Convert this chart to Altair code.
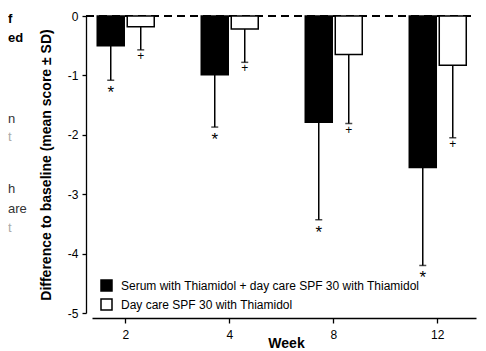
import altair as alt
import pandas as pd

weeks = ["2", "4", "8", "12"]
series = ["Serum with Thiamidol + day care SPF 30 with Thiamidol",
          "Day care SPF 30 with Thiamidol"]
serum_mean = [-0.50, -0.99, -1.79, -2.55]
serum_sd = [0.58, 0.88, 1.64, 1.65]
day_mean = [-0.18, -0.22, -0.65, -0.83]
day_sd = [0.39, 0.56, 1.16, 1.22]
serum_sig = ["*", "*", "*", "*"]
day_sig = ["+", "+", "+", "+"]
y_ticks = [0, -1, -2, -3, -4, -5]

rows = []
for i, w in enumerate(weeks):
    rows.append({"week": w, "series": series[0], "mean": serum_mean[i], "sd": serum_sd[i], "sig": serum_sig[i]})
    rows.append({"week": w, "series": series[1], "mean": day_mean[i], "sd": day_sd[i], "sig": day_sig[i]})
df = pd.DataFrame(rows)

FONT = "Liberation Sans, Arial, sans-serif"

yscale = alt.Scale(domain=[-5, 0], nice=False, zero=False)

base = alt.Chart(df).transform_calculate(
    low="datum.mean - datum.sd"
).encode(
    x=alt.X("week:N", sort=weeks,
            scale=alt.Scale(paddingInner=0.452, paddingOuter=0.072, align=0.35),
            axis=alt.Axis(title="Week", labelAngle=0, offset=5, tickSize=5,
                          labelFontSize=12, labelPadding=6, titleFontSize=14,
                          titleFontWeight="bold", titleX=194, titleY=29,
                          titleBaseline="alphabetic", domainWidth=1.3, tickWidth=1.3)),
    xOffset=alt.XOffset("series:N", sort=series,
                        scale=alt.Scale(paddingInner=0.1, paddingOuter=0)),
)

zero_line = alt.Chart(df).mark_rule(color="black", strokeWidth=1.2, strokeDash=[8, 5]).encode(
    y=alt.datum(0, scale=yscale), x=alt.value(-6), x2=alt.value("width")
)

bars = base.mark_bar(stroke="black", strokeWidth=1.5).encode(
    y=alt.Y("mean:Q", scale=yscale,
            axis=alt.Axis(title="Difference to baseline (mean score ± SD)",
                          values=y_ticks, labelExpr="'' + datum.value",
                          offset=6, tickSize=4, labelFontSize=12, labelPadding=4,
                          titleFontSize=14, titleFontWeight="bold",
                          titleX=-36, titleY=148.5, titleBaseline="alphabetic",
                          domainWidth=1.3, tickWidth=1.3)),
    color=alt.Color("series:N", sort=series,
                    scale=alt.Scale(domain=series, range=["black", "white"]),
                    legend=alt.Legend(title=None, orient="none", legendX=8, legendY=263,
                                      symbolType="square", symbolSize=121,
                                      symbolStrokeColor="black", symbolStrokeWidth=1.5,
                                      labelFontSize=12, labelOffset=8, rowPadding=2,
                                      labelLimit=0, padding=0, labelFont=FONT,
                                      labelColor="black")),
)

err = base.mark_rule(color="black", strokeWidth=1.5).encode(
    y=alt.Y("mean:Q", scale=yscale), y2="low:Q"
)
caps = base.mark_tick(orient="horizontal", size=7, thickness=1.5, color="black").encode(
    y=alt.Y("low:Q", scale=yscale)
)
stars = base.transform_filter(alt.datum.series == series[0]).mark_text(
    baseline="top", dy=5, fontSize=17, color="black", font=FONT
).encode(y=alt.Y("low:Q", scale=yscale), text="sig:N")
plus = base.transform_filter(alt.datum.series == series[1]).mark_text(
    baseline="top", dy=1, fontSize=12, color="black", font=FONT
).encode(y=alt.Y("low:Q", scale=yscale), text="sig:N")

frag_text = ["f", "ed", "n", "t", "h", "are", "t"]
frag_base = [23, 42, 123, 141, 193, 213, 232]
frag_bold = ["bold", "bold", "normal", "normal", "normal", "normal", "normal"]
frag_color = ["black", "black", "#333333", "#aaaaaa", "#333333", "#333333", "#aaaaaa"]
frags = []
for t, yb, fw, c in zip(frag_text, frag_base, frag_bold, frag_color):
    frags.append(alt.Chart(df).transform_filter(
        (alt.datum.week == "2") & (alt.datum.series == series[0])
    ).mark_text(
        text=t, align="left", baseline="alphabetic", fontSize=13, fontWeight=fw,
        color=c, font=FONT).encode(x=alt.value(-84), y=alt.value(yb - 16)))

chart = alt.layer(zero_line, bars, err, caps, stars, plus, *frags).properties(
    width=384, height=297,
    autosize=alt.AutoSizeParams(type="none"),
    padding={"left": 84, "top": 8, "right": 2, "bottom": 36},
).configure_view(stroke=None).configure_axis(
    grid=False, domainColor="black", tickColor="black", labelColor="black",
    titleColor="black", labelFont=FONT, titleFont=FONT
).configure_text(font=FONT)

chart.save("out.html", embed_options={"renderer": "svg", "actions": False})
